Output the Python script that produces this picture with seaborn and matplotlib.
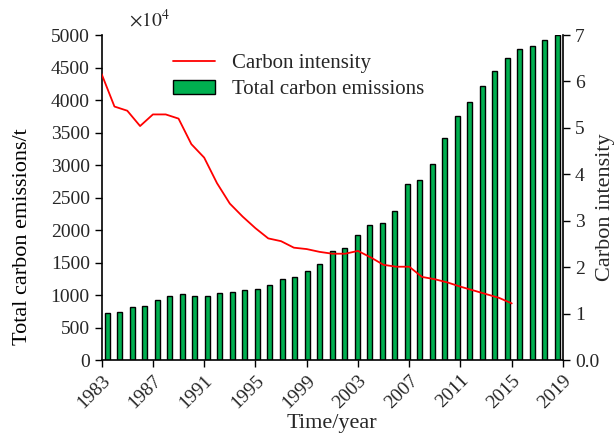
import numpy as np
import pandas as pd
import matplotlib
matplotlib.use('Agg')
import matplotlib.pyplot as plt
import seaborn as sns

# data
years = list(range(1983, 2020))
emissions = [720, 740, 810, 830, 920, 990, 1020, 990, 990, 1030,
             1050, 1070, 1090, 1160, 1250, 1280, 1375, 1470, 1675, 1725,
             1920, 2070, 2105, 2290, 2710, 2770, 3020, 3420, 3750, 3970,
             4220, 4440, 4650, 4790, 4830, 4930, 4995]
intensity_years = list(range(1983, 2016))
intensity = [6.16, 5.46, 5.37, 5.04, 5.29, 5.29, 5.20, 4.65, 4.36, 3.81,
             3.37, 3.09, 2.84, 2.62, 2.56, 2.42, 2.39, 2.33, 2.29, 2.29,
             2.35, 2.21, 2.05, 2.01, 2.01, 1.79, 1.74, 1.67, 1.58, 1.50,
             1.42, 1.34, 1.22]
year_ticks = list(range(1983, 2020, 4))
left_ticks = list(range(0, 5001, 500))
right_ticks = [0, 1, 2, 3, 4, 5, 6, 7]
right_labels = ['0.0', '1', '2', '3', '4', '5', '6', '7']

df_bar = pd.DataFrame({'Year': [str(y) for y in years], 'Emissions': emissions})
df_line = pd.DataFrame({'Year': intensity_years, 'Intensity': intensity})

sns.set_theme(style="ticks")
plt.rcParams['font.family'] = ['Liberation Serif', 'DejaVu Serif']
plt.rcParams['mathtext.fontset'] = 'stix'

fig = plt.figure(figsize=(6.16, 4.38), dpi=100)
rect = [0.165, 0.178, 0.749, 0.742]

# bars on a categorical axis
ax = fig.add_axes(rect)
sns.barplot(data=df_bar, x='Year', y='Emissions', ax=ax, color='#00B050',
            edgecolor='black', linewidth=1.0, width=0.4, saturation=1,
            label='Total carbon emissions')
if ax.get_legend() is not None:
    ax.get_legend().remove()
ax.set_xlim(-0.46, len(years) - 1 + 0.46)
ax.set_ylim(0, 5000)
ax.set_yticks(left_ticks)
ax.tick_params(axis='y', labelsize=14, direction='out', length=5, width=1, color='black')
ax.set_xticks([])
ax.set_xlabel('')
ax.set_ylabel('Total carbon emissions/t', fontsize=16, color='black')
ax.yaxis.set_label_coords(-0.152, 0.38)
for s in ['top', 'right']:
    ax.spines[s].set_visible(False)
for s in ['left', 'bottom']:
    ax.spines[s].set_color('black')
    ax.spines[s].set_linewidth(1.2)
ax.text(0.06, 1.015, r'$\times10^{4}$', transform=ax.transAxes, fontsize=14,
        ha='left', va='bottom')

# line on a year axis with the right-hand scale
ax2 = fig.add_axes(rect, facecolor='none')
sns.lineplot(data=df_line, x='Year', y='Intensity', ax=ax2, color='#FF0000',
             linewidth=1.3, label='Carbon intensity')
ax2.set_xlim(1983, 2019)
ax2.set_ylim(0, 7)
ax2.set_xticks(year_ticks)
ax2.set_xticklabels([str(y) for y in year_ticks], rotation=45, ha='right',
                    va='top', rotation_mode='anchor')
ax2.yaxis.tick_right()
ax2.yaxis.set_label_position('right')
ax2.set_yticks(right_ticks)
ax2.set_yticklabels(right_labels)
ax2.tick_params(axis='both', labelsize=14, direction='out', length=5, width=1, color='black')
ax2.set_xlabel('Time/year', fontsize=16, labelpad=2)
ax2.set_ylabel('Carbon intensity', fontsize=16)
ax2.yaxis.set_label_coords(1.072, 0.47)
for s in ['top', 'left', 'bottom']:
    ax2.spines[s].set_visible(False)
ax2.spines['right'].set_color('black')
ax2.spines['right'].set_linewidth(1.2)

h1, l1 = ax2.get_legend_handles_labels()
h2, l2 = ax.get_legend_handles_labels()
ax2.legend(h1 + h2, l1 + l2, loc='upper left', bbox_to_anchor=(0.115, 1.0),
           frameon=False, fontsize=15, handlelength=2.0, labelspacing=0.3)

fig.savefig('out.png', dpi=100)
